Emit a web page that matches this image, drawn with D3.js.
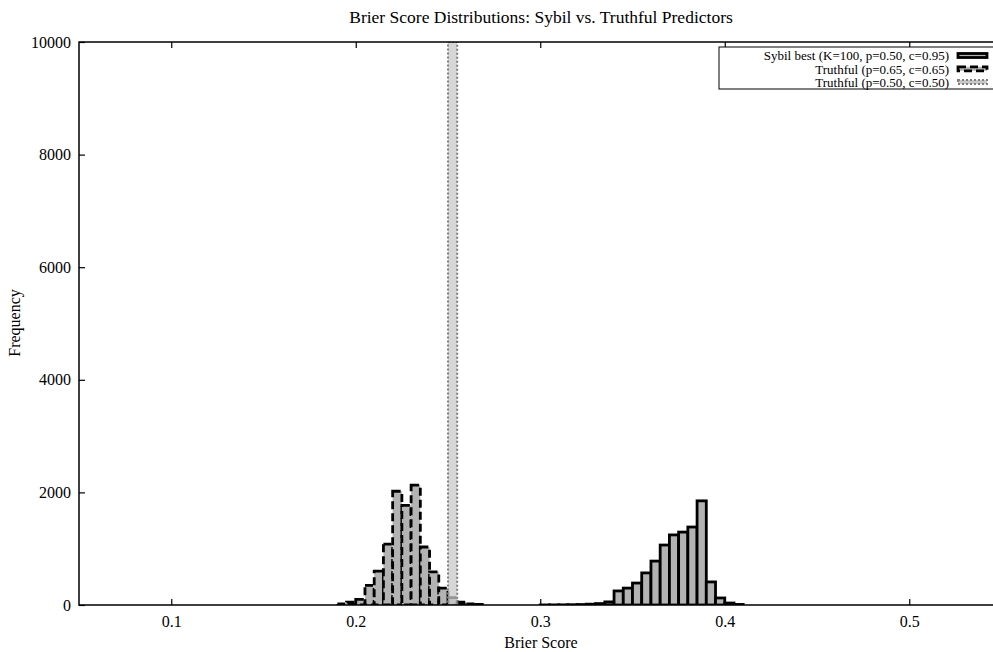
<!DOCTYPE html>
<html>
<head>
<meta charset="utf-8">
<script src="https://cdn.jsdelivr.net/npm/d3@7"></script>
<style>
  body { margin: 0; background: #fff; }
  svg { display: block; font-family: "Liberation Serif", "DejaVu Serif", serif; }
</style>
</head>
<body>
<div id="chart"></div>
<script>
// --------------------------------------
//  Data (bin start, count), bin width 0.005
// --------------------------------------

const binWidth = 0.005;

const sybilBins = [0.300, 0.305, 0.310, 0.315, 0.320, 0.325, 0.330, 0.335, 0.340, 0.345,
                   0.350, 0.355, 0.360, 0.365, 0.370, 0.375, 0.380, 0.385, 0.390, 0.395,
                   0.400, 0.405];
const sybilCounts = [1, 2, 3, 5, 8, 15, 25, 55, 250, 300,
                     390, 570, 780, 1065, 1245, 1295, 1385, 1850, 410, 125,
                     35, 10];

const truth65Bins = [0.190, 0.195, 0.200, 0.205, 0.210, 0.215, 0.220, 0.225, 0.230, 0.235,
                     0.240, 0.245, 0.250, 0.255, 0.260, 0.265];
const truth65Counts = [20, 50, 100, 350, 600, 1080, 2020, 1770, 2130, 1030,
                       590, 300, 130, 50, 20, 10];

const truth50Bins = [0.250];
const truth50Counts = [10000];

const xTicks = [0.1, 0.2, 0.3, 0.4, 0.5];
const yTicks = [0, 2000, 4000, 6000, 8000, 10000];

const legendLabels = [
  "Sybil best (K=100, p=0.50, c=0.95)",
  "Truthful (p=0.65, c=0.65)",
  "Truthful (p=0.50, c=0.50)"
];

// --------------------------------------
//  Margin and canvas
// --------------------------------------

const width = 993;
const height = 652;
const margin = {top: 42, left: 79, bottom: 47};
const plotRight = 1001.5;
const plotBottom = height - margin.bottom;

const svg = d3.select("#chart")
  .append("svg")
    .attr("width", width)
    .attr("height", height);

svg.append("defs")
  .append("clipPath")
    .attr("id", "plot-clip")
  .append("rect")
    .attr("x", margin.left)
    .attr("y", margin.top)
    .attr("width", plotRight - margin.left)
    .attr("height", plotBottom - margin.top);

// --------------------------------------
//  Scales
// --------------------------------------

const x = d3.scaleLinear()
    .domain([0.05, 0.55])
    .range([margin.left, plotRight]);

const y = d3.scaleLinear()
    .domain([0, 10000])
    .range([plotBottom, margin.top]);

// --------------------------------------
//  Bars
// --------------------------------------

const series = [
  {bins: sybilBins, counts: sybilCounts, fill: "#b3b3b3", fillOpacity: 1, stroke: "#000", width: 2.8, dash: null},
  {bins: truth65Bins, counts: truth65Counts, fill: "#b3b3b3", fillOpacity: 1, stroke: "#000", width: 2.8, dash: "8,4"},
  {bins: truth50Bins, counts: truth50Counts, fill: "#c8c8c8", fillOpacity: 0.75, stroke: "#808080", width: 2, dash: "2,2"}
];

const bars = svg.append("g").attr("clip-path", "url(#plot-clip)");

series.forEach(s => {
  const rows = s.bins.map((b, i) => ({start: b, count: s.counts[i]}));
  bars.append("g")
    .selectAll("rect")
    .data(rows)
    .join("rect")
      .attr("x", d => x(d.start))
      .attr("width", d => x(d.start + binWidth) - x(d.start))
      .attr("y", d => y(d.count))
      .attr("height", d => y(0) - y(d.count))
      .attr("fill", s.fill)
      .attr("fill-opacity", s.fillOpacity)
      .attr("stroke", s.stroke)
      .attr("stroke-width", s.width)
      .attr("stroke-dasharray", s.dash);
});

// --------------------------------------
//  Axes
// --------------------------------------

svg.append("g")
    .attr("transform", `translate(0, ${plotBottom})`)
    .call(d3.axisBottom(x).tickValues(xTicks).tickSize(-6).tickPadding(11).tickFormat(d3.format(".1f")))
    .call(g => g.select(".domain").remove());

svg.append("g")
    .attr("transform", `translate(0, ${margin.top})`)
    .call(d3.axisTop(x).tickValues(xTicks).tickSize(-6).tickFormat(""))
    .call(g => g.select(".domain").remove());

svg.append("g")
    .attr("transform", `translate(${margin.left}, 0)`)
    .call(d3.axisLeft(y).tickValues(yTicks).tickSize(-6).tickPadding(8).tickFormat(d3.format("d")))
    .call(g => g.select(".domain").remove());

svg.selectAll(".tick text")
    .attr("font-family", "Liberation Serif")
    .attr("font-size", 16)
    .attr("fill", "#000");
svg.selectAll(".tick line").attr("stroke", "#000").attr("stroke-width", 1.2);

// frame
svg.append("path")
    .attr("d", `M${plotRight},${margin.top}H${margin.left}V${plotBottom}H${plotRight}`)
    .attr("fill", "none")
    .attr("stroke", "#000")
    .attr("stroke-width", 1.5);

// --------------------------------------
//  Labels
// --------------------------------------

svg.append("text")
    .attr("x", 541)
    .attr("y", 23)
    .attr("text-anchor", "middle")
    .attr("font-size", 17.5)
    .text("Brier Score Distributions: Sybil vs. Truthful Predictors");

svg.append("text")
    .attr("x", 541)
    .attr("y", 648)
    .attr("text-anchor", "middle")
    .attr("font-size", 16)
    .text("Brier Score");

svg.append("text")
    .attr("transform", "translate(20, 323) rotate(-90)")
    .attr("text-anchor", "middle")
    .attr("font-size", 16)
    .text("Frequency");

// --------------------------------------
//  Legend
// --------------------------------------

const legend = svg.append("g");

legend.append("rect")
    .attr("x", 719)
    .attr("y", 47)
    .attr("width", 280)
    .attr("height", 42)
    .attr("fill", "#fff")
    .attr("stroke", "#000")
    .attr("stroke-width", 1);

const items = legend.selectAll(".legend-item")
  .data(series.map((s, i) => ({...s, label: legendLabels[i]})))
  .join("g")
    .attr("class", "legend-item")
    .attr("transform", (d, i) => `translate(0, ${56 + i * 13.3})`);

items.append("text")
    .attr("x", 949)
    .attr("y", 4.3)
    .attr("text-anchor", "end")
    .attr("font-size", 13)
    .text(d => d.label);

items.append("rect")
    .attr("x", 958)
    .attr("y", -2.5)
    .attr("width", 29)
    .attr("height", 4)
    .attr("fill", d => d.fill)
    .attr("stroke", d => d.stroke)
    .attr("stroke-width", d => d.width)
    .attr("stroke-dasharray", d => d.dash);
</script>
</body>
</html>
